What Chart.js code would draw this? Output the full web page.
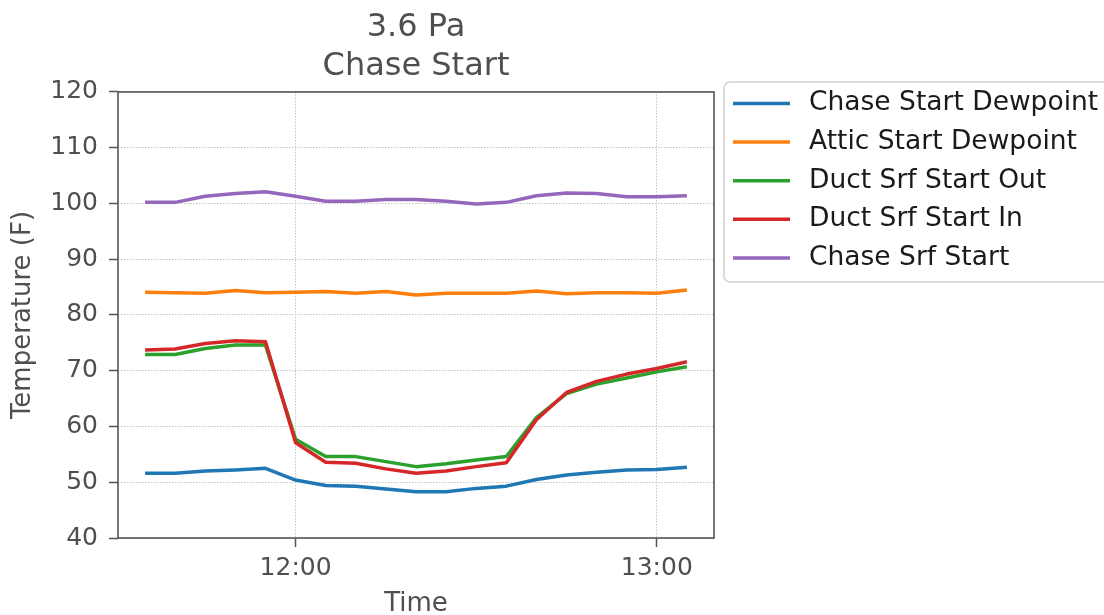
<!DOCTYPE html>
<html>
<head>
<meta charset="utf-8">
<script src="https://cdn.jsdelivr.net/npm/chart.js@4/dist/chart.umd.min.js"></script>
<style>
  body { margin: 0; background: #fff; }
  #canvas_chart01 { display: block; }
</style>
</head>
<body>
<canvas id="canvas_chart01" width="1104" height="615"></canvas>
<script>
// sample times, every 5 minutes
const times = ['11:35', '11:40', '11:45', '11:50', '11:55', '12:00', '12:05', '12:10', '12:15', '12:20',
               '12:25', '12:30', '12:35', '12:40', '12:45', '12:50', '12:55', '13:00', '13:05'];
const xTicks = ['12:00', '13:00'];

const chaseStartDewpoint = [51.6, 51.6, 52.0, 52.2, 52.5, 50.4, 49.4, 49.3, 48.8, 48.3,
                            48.3, 48.9, 49.3, 50.5, 51.3, 51.8, 52.2, 52.3, 52.7];
const atticStartDewpoint = [84.1, 84.0, 83.9, 84.4, 84.0, 84.1, 84.2, 83.9, 84.2, 83.6,
                            83.9, 83.9, 83.9, 84.3, 83.8, 84.0, 84.0, 83.9, 84.5];
const ductSrfStartOut = [72.9, 72.9, 74.0, 74.6, 74.6, 57.7, 54.6, 54.6, 53.7, 52.8,
                         53.3, 54.0, 54.6, 61.6, 65.9, 67.6, 68.7, 69.8, 70.7];
const ductSrfStartIn = [73.7, 73.9, 74.9, 75.4, 75.2, 57.1, 53.6, 53.4, 52.4, 51.6,
                        52.0, 52.8, 53.5, 61.2, 66.1, 68.1, 69.4, 70.4, 71.6];
const chaseSrfStart = [100.2, 100.2, 101.3, 101.8, 102.1, 101.3, 100.4, 100.4, 100.7, 100.7,
                       100.4, 99.9, 100.2, 101.4, 101.9, 101.8, 101.2, 101.2, 101.4];

const labels = ['Chase Start Dewpoint', 'Attic Start Dewpoint', 'Duct Srf Start Out', 'Duct Srf Start In', 'Chase Srf Start'];
const colors = ['#1f77b4', '#ff7f0e', '#2ca02c', '#d62728', '#9467bd'];
const series = [chaseStartDewpoint, atticStartDewpoint, ductSrfStartOut, ductSrfStartIn, chaseSrfStart];

const FONT = 'DejaVu Sans';
const GREY = '#4f4f4f';

function toMin(t) {
    const p = t.split(':');
    return Number(p[0]) * 60 + Number(p[1]);
}
function fmt(v) {
    const h = Math.floor(v / 60), m = Math.round(v % 60);
    return h + ':' + String(m).padStart(2, '0');
}

const datasets = series.map((s, i) => ({
    label: labels[i],
    data: times.map((t, j) => ({ x: toMin(t), y: s[j] })),
    borderColor: colors[i],
    backgroundColor: colors[i],
    borderWidth: 3.5,
    borderJoinStyle: 'round',
    pointRadius: 0,
    tension: 0,
    fill: false,
    order: series.length - i
}));

// white background, spines and the boxed legend
const framePlugin = {
    id: 'frame',
    beforeDraw(chart) {
        const ctx = chart.ctx;
        ctx.save();
        ctx.fillStyle = '#fff';
        ctx.fillRect(0, 0, chart.width, chart.height);
        ctx.restore();
    },
    afterDatasetsDraw(chart) {
        const a = chart.chartArea;
        const ctx = chart.ctx;
        ctx.save();
        ctx.strokeStyle = '#555';
        ctx.lineWidth = 1.6;
        ctx.strokeRect(a.left, a.top, a.right - a.left, a.bottom - a.top);
        ctx.restore();
    },
    afterDraw(chart) {
        const ctx = chart.ctx;
        ctx.save();
        ctx.strokeStyle = '#d0d0d0';
        ctx.lineWidth = 1.5;
        ctx.beginPath();
        ctx.roundRect(724, 82, 420, 200, 6);
        ctx.stroke();
        ctx.font = '26.5px "' + FONT + '"';
        ctx.textBaseline = 'middle';
        ctx.fillStyle = '#1a1a1a';
        chart.data.datasets.forEach((ds, i) => {
            const y = 103.5 + i * 38.6;
            ctx.strokeStyle = ds.borderColor;
            ctx.lineWidth = 3.5;
            ctx.beginPath();
            ctx.moveTo(733, y);
            ctx.lineTo(790, y);
            ctx.stroke();
            ctx.fillText(ds.label, 809, y);
        });
        ctx.restore();
    }
};

const ctx01 = document.getElementById('canvas_chart01');

new Chart(ctx01, {
    type: 'line',
    data: { datasets: datasets },
    options: {
        responsive: false,
        animation: false,
        layout: { padding: { left: 0, right: 390, top: 0, bottom: 0 } },
        plugins: {
            legend: { display: false },
            tooltip: { enabled: false },
            title: {
                display: true,
                text: ['3.6 Pa', 'Chase Start'],
                fullSize: false,
                color: GREY,
                font: { family: FONT, size: 32, weight: 'normal', lineHeight: 1.22 },
                padding: { top: 8.5, bottom: 5.4 }
            }
        },
        scales: {
            x: {
                type: 'linear',
                min: 690.5,
                max: 789.5,
                afterBuildTicks: axis => { axis.ticks = xTicks.map(t => ({ value: toMin(t) })); },
                afterFit: axis => { axis.height = 77; },
                ticks: {
                    callback: v => fmt(v),
                    color: GREY,
                    padding: 6,
                    maxRotation: 0,
                    font: { family: FONT, size: 25 }
                },
                grid: {
                    color: '#c4c4c4',
                    lineWidth: 1,
                    tickLength: 9,
                    tickColor: '#555',
                    tickWidth: 1.5,
                    tickBorderDash: []
                },
                border: { display: false, dash: [1.5, 1.5] },
                title: {
                    display: true,
                    text: 'Time',
                    color: GREY,
                    font: { family: FONT, size: 26, lineHeight: 0.85 },
                    padding: { top: 0, bottom: 0 }
                }
            },
            y: {
                min: 40,
                max: 120,
                afterFit: axis => { axis.width = 118; },
                ticks: {
                    stepSize: 10,
                    color: GREY,
                    padding: 11,
                    font: { family: FONT, size: 25 }
                },
                grid: {
                    color: '#c4c4c4',
                    lineWidth: 1,
                    tickLength: 9,
                    tickColor: '#555',
                    tickWidth: 1.5,
                    tickBorderDash: []
                },
                border: { display: false, dash: [1.5, 1.5] },
                title: {
                    display: true,
                    text: 'Temperature (F)',
                    color: GREY,
                    font: { family: FONT, size: 26, lineHeight: 1.2 },
                    padding: { top: 8, bottom: 0 }
                }
            }
        }
    },
    plugins: [framePlugin]
});
</script>
</body>
</html>
